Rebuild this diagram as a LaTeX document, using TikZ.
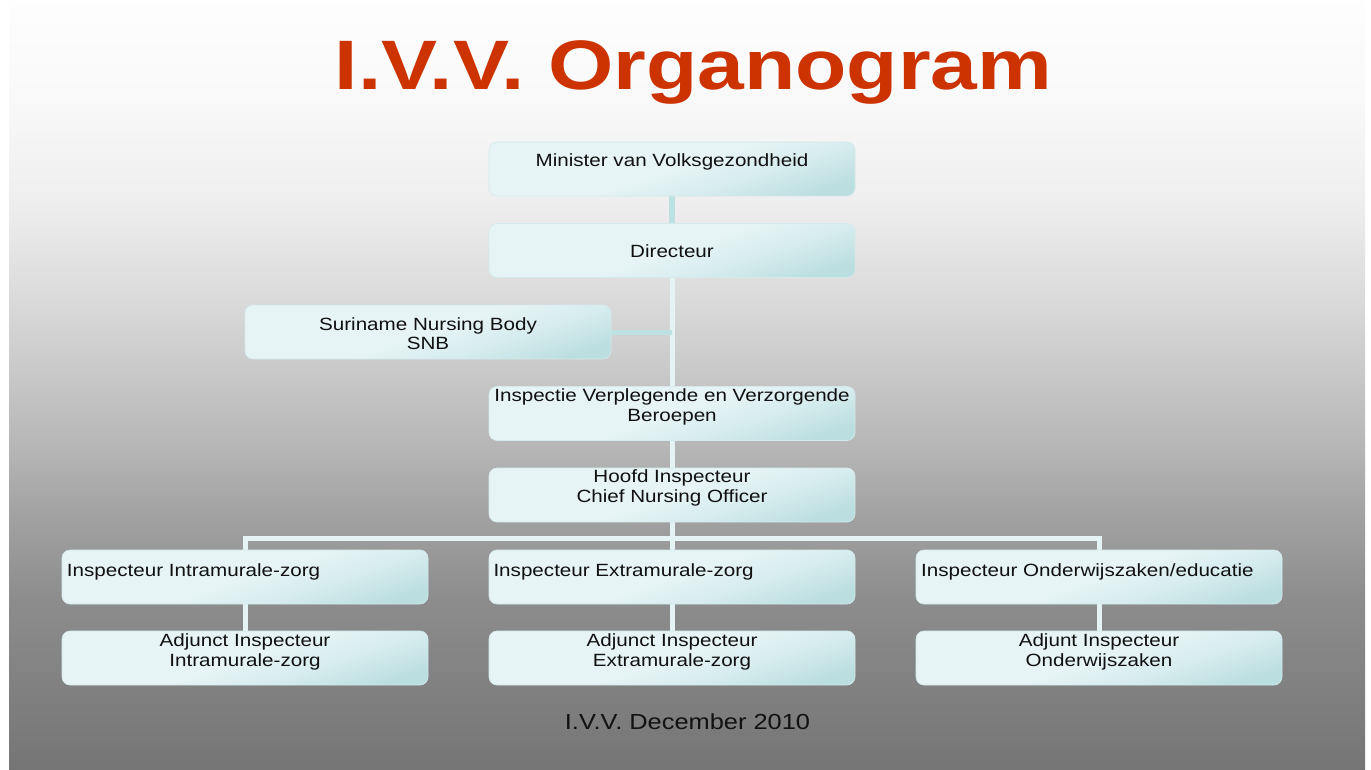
\documentclass[tikz,border=0pt]{standalone}
\usepackage{fontspec}
\setmainfont{Liberation Sans}
\newfontfamily\boxfont[FakeStretch=1.165]{Liberation Sans}
\newfontfamily\titlefont[FakeStretch=1.2]{Liberation Sans Bold}
\definecolor{bxA}{HTML}{E6F4F5}
\definecolor{bxB}{HTML}{BBDEE1}
\definecolor{bxEdge}{HTML}{D3E9EB}
\definecolor{lnA}{HTML}{BDE0E3}
\definecolor{lnB}{HTML}{E4F3F4}
\definecolor{ttl}{HTML}{CC3300}
\definecolor{txt}{HTML}{111111}
% path bounding box maps to 25bp..75bp of the shading
\pgfdeclareverticalshading{bgsh}{100bp}{color(0bp)=(black!54); color(25bp)=(black!54); color(36bp)=(black!45); color(41.25bp)=(black!37); color(45.75bp)=(black!29); color(55.5bp)=(black!14.5); color(62bp)=(black!6.5); color(68.5bp)=(black!2.5); color(75bp)=(black!0.5); color(100bp)=(black!0.5)}
\pgfdeclarehorizontalshading{boxsh}{100bp}{color(0bp)=(bxA); color(25bp)=(bxA); color(50bp)=(bxA); color(62bp)=(bxA!65!bxB); color(76bp)=(bxB); color(100bp)=(bxB)}
\pgfdeclarelayer{bg}
\pgfdeclarelayer{lines}
\pgfsetlayers{bg,lines,main}
\tikzset{
  box/.style={rectangle, rounded corners=8pt, minimum width=366pt, minimum height=54pt,
    inner sep=0pt, outer sep=0pt, draw=bxEdge, line width=0.6pt, shade, shading=boxsh, shading angle=-72},
  lbl/.style={font=\boxfont\fontsize{17.7}{20}\selectfont, text=txt, inner sep=0pt, anchor=base},
  lblw/.style={lbl, anchor=base west},
  conA/.style={draw=lnA, line width=6pt},
  conB/.style={draw=lnB, line width=5pt},
  conC/.style={draw=lnA, line width=5pt},
}
\begin{document}
\begin{tikzpicture}[x=1pt,y=-1pt]
\useasboundingbox (0,0) rectangle (1371,770);
\begin{pgfonlayer}{bg}
  \fill[white] (0,0) rectangle (1371,770);
  \shade[shading=bgsh] (9,0) rectangle (1365,770);
\end{pgfonlayer}

% title
\node[font=\titlefont\fontsize{70}{80}\selectfont, text=ttl, inner sep=0pt, anchor=base] (title) at (693.5,90) {I.V.V. Organogram};

% boxes
\node[box] (min) at (672,169) {};
\node[box] (dir) at (672,250.5) {};
\node[box] (snb) at (428,332) {};
\node[box] (insp) at (672,413.5) {};
\node[box] (hoofd) at (672,495) {};
\node[box] (intra) at (245,577) {};
\node[box] (extra) at (672,577) {};
\node[box] (onder) at (1099,577) {};
\node[box] (aintra) at (245,658) {};
\node[box] (aextra) at (672,658) {};
\node[box] (aonder) at (1099,658) {};

% texts
\node[lbl] (tmin) at (672,166.5) {Minister van Volksgezondheid};
\node[lbl] (tdir) at (672,257.5) {Directeur};
\node[lbl] (tsnb1) at (428,330) {Suriname Nursing Body};
\node[lbl] (tsnb2) at (428,349.5) {SNB};
\node[lbl] (tinsp1) at (672,401) {Inspectie Verplegende en Verzorgende};
\node[lbl] (tinsp2) at (672,421) {Beroepen};
\node[lbl] (thoofd1) at (672,482.5) {Hoofd Inspecteur};
\node[lbl] (thoofd2) at (672,502.5) {Chief Nursing Officer};
\node[lblw] (tintra) at (66.7,576) {Inspecteur Intramurale-zorg};
\node[lblw] (textra) at (493.3,576) {Inspecteur Extramurale-zorg};
\node[lblw] (tonder) at (921,576) {Inspecteur Onderwijszaken/educatie};
\node[lbl] (taintra1) at (245,646) {Adjunct Inspecteur};
\node[lbl] (taintra2) at (245,666) {Intramurale-zorg};
\node[lbl] (taextra1) at (672,646) {Adjunct Inspecteur};
\node[lbl] (taextra2) at (672,666) {Extramurale-zorg};
\node[lbl] (taonder1) at (1099,646) {Adjunt Inspecteur};
\node[lbl] (taonder2) at (1099,666) {Onderwijszaken};

% footer
\node[font=\boxfont\fontsize{21.8}{24}\selectfont, text=txt, inner sep=0pt, anchor=base] (foot) at (687.5,729) {I.V.V. December 2010};

% connectors
\coordinate (bus) at (672,538);
\begin{pgfonlayer}{lines}
  \draw[conA] (min.south) -- (dir.north);
  \draw[conB] (dir.south) -- (hoofd.north);
  \draw[conC] (snb.east) -- (snb.east -| dir.south);
  \draw[conB] (hoofd.south) -- (extra.north);
  \draw[conB] (intra.north) -- (intra.north |- bus) -- (onder.north |- bus) -- (onder.north);
  \draw[conB] (intra.south) -- (aintra.north);
  \draw[conB] (extra.south) -- (aextra.north);
  \draw[conB] (onder.south) -- (aonder.north);
\end{pgfonlayer}
\end{tikzpicture}
\end{document}
